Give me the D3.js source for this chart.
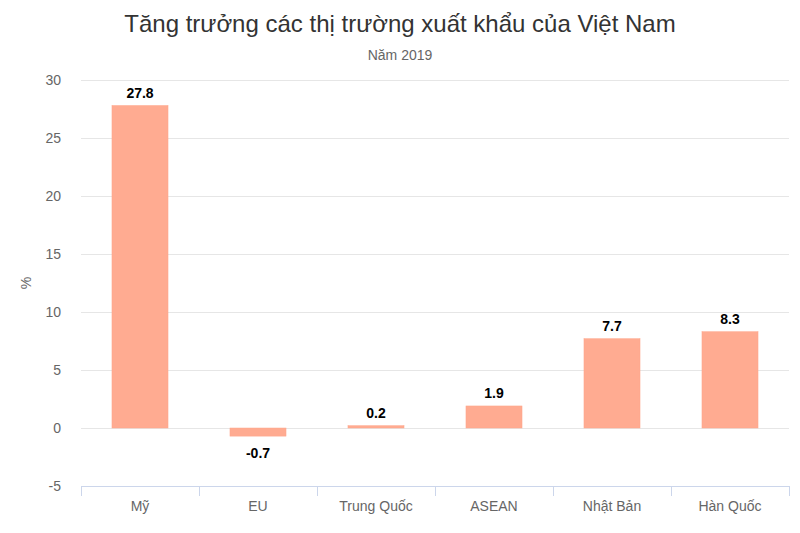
<!DOCTYPE html>
<html><head><meta charset="utf-8">
<script src="https://cdn.jsdelivr.net/npm/d3@7"></script>
<style>body{margin:0;background:#fff} text{font-family:'Liberation Sans','Arial',sans-serif}</style>
</head><body><svg id="c" width="800" height="533" font-family="Liberation Sans, Arial, sans-serif"></svg>
<script>
const categories = ["Mỹ","EU","Trung Quốc","ASEAN","Nhật Bản","Hàn Quốc"];
const values = [27.8,-0.7,0.2,1.9,7.7,8.3];
const yTicks = [-5,0,5,10,15,20,25,30];
const titleText = "Tăng trưởng các thị trường xuất khẩu của Việt Nam";
const subtitleText = "Năm 2019";
const yTitle = "%";

const svg = d3.select("#c");
const L=81, R=789, T=80, B=486;
const x = d3.scaleBand().domain(categories).range([L,R]).paddingInner(0.525).paddingOuter(0.2625);
const y = d3.scaleLinear().domain([-5,30]).range([B,T]);

svg.append("text").attr("x",400).attr("y",32).attr("text-anchor","middle").attr("font-size",24).attr("fill","#333").text(titleText);
svg.append("text").attr("x",400).attr("y",60).attr("text-anchor","middle").attr("font-size",14).attr("fill","#666").text(subtitleText);

svg.append("g").selectAll("line").data(yTicks.filter(d=>d!==-5)).join("line")
  .attr("x1",L).attr("x2",R).attr("y1",d=>Math.round(y(d))+0.5).attr("y2",d=>Math.round(y(d))+0.5)
  .attr("stroke","#e6e6e6");
svg.append("g").selectAll("text").data(yTicks).join("text")
  .attr("x",61).attr("y",d=>y(d)+5).attr("text-anchor","end").attr("font-size",14).attr("fill","#666").text(d=>d);
svg.append("text").attr("transform",`translate(31,${(T+B)/2}) rotate(-90)`).attr("text-anchor","middle").attr("font-size",14).attr("fill","#666").text(yTitle);

const band = (R-L)/categories.length;
svg.append("line").attr("x1",L).attr("x2",R).attr("y1",B+0.5).attr("y2",B+0.5).attr("stroke","#ccd6eb");
svg.append("g").selectAll("line").data(d3.range(categories.length+1)).join("line")
  .attr("x1",i=>Math.round(L+i*band)+0.5).attr("x2",i=>Math.round(L+i*band)+0.5)
  .attr("y1",B).attr("y2",B+10).attr("stroke","#ccd6eb");
svg.append("g").selectAll("text").data(categories).join("text")
  .attr("x",d=>x(d)+x.bandwidth()/2).attr("y",511).attr("text-anchor","middle").attr("font-size",14).attr("fill","#666").text(d=>d);

svg.append("g").selectAll("rect").data(values).join("rect")
  .attr("x",(d,i)=>x(categories[i])).attr("width",x.bandwidth())
  .attr("y",d=>y(Math.max(0,d))).attr("height",d=>Math.abs(y(d)-y(0)))
  .attr("fill","#ffab91").attr("stroke","#ffa68a").attr("stroke-width",0.5);

svg.append("g").selectAll("text").data(values).join("text")
  .attr("x",(d,i)=>x(categories[i])+x.bandwidth()/2)
  .attr("y",d=>d>=0? y(d)-8 : y(d)+22)
  .attr("text-anchor","middle").attr("font-size",14).attr("font-weight","bold").attr("fill","#000")
  .attr("stroke","#fff").attr("stroke-width",2).attr("paint-order","stroke").attr("stroke-linejoin","round")
  .text(d=>d);
</script></body></html>
